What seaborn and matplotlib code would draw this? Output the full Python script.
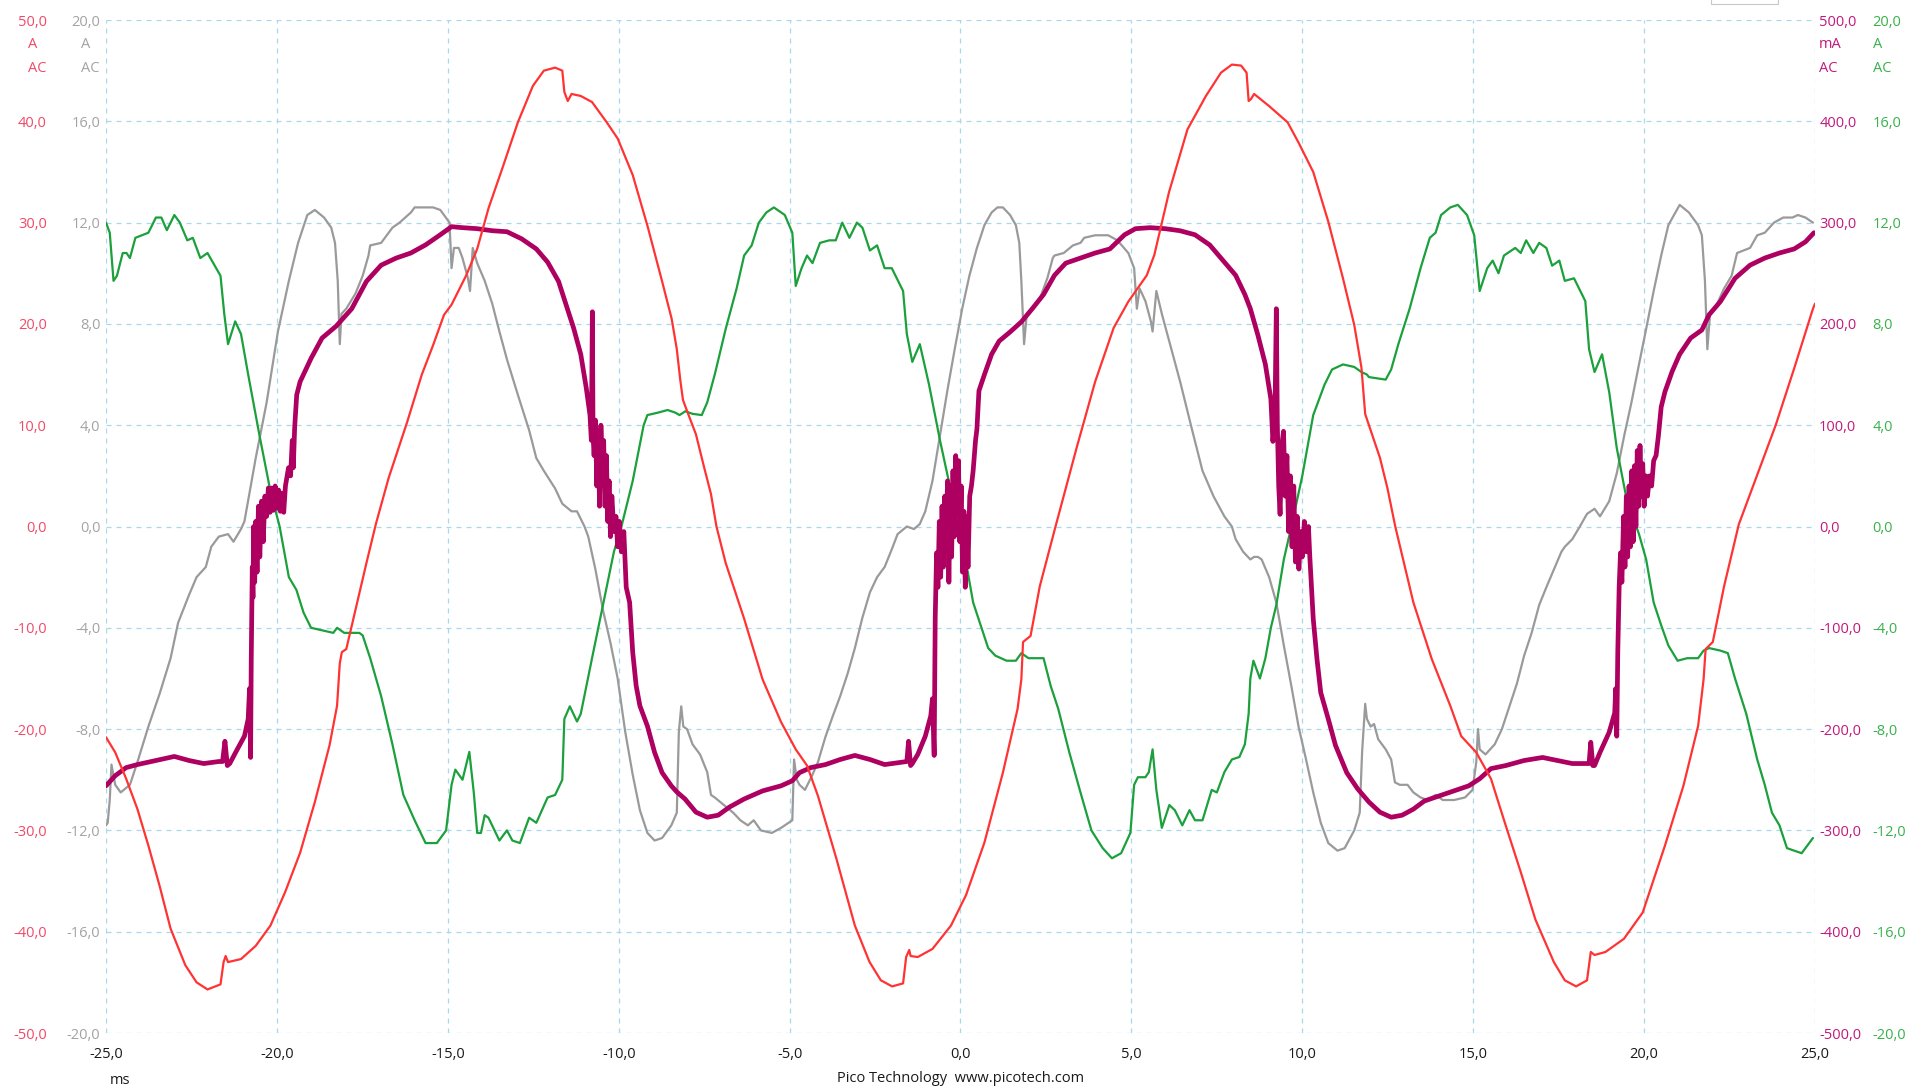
import matplotlib
matplotlib.use("Agg")
import matplotlib.pyplot as plt
from matplotlib.patches import Rectangle
import seaborn as sns

# ---- data (time in ms) ----
x_ticks = [-25, -20, -15, -10, -5, 0, 5, 10, 15, 20, 25]
red_ticks = [-50, -40, -30, -20, -10, 0, 10, 20, 30, 40, 50]
gray_ticks = [-20, -16, -12, -8, -4, 0, 4, 8, 12, 16, 20]
mag_ticks = [-500, -400, -300, -200, -100, 0, 100, 200, 300, 400, 500]
green_ticks = [-20, -16, -12, -8, -4, 0, 4, 8, 12, 16, 20]

# channel A (red, A)
red_t = [-25.0, -24.73, -24.41, -24.08, -23.76, -23.43, -23.11, -22.68, -22.35, -22.03,
         -21.65, -21.56, -21.5, -21.43, -21.05, -20.62, -20.19, -19.76, -19.32, -18.89,
         -18.46, -18.24, -18.16, -18.1, -17.97, -17.7, -17.38, -17.1, -16.73, -16.19,
         -15.76, -15.43, -15.11, -14.89, -14.46, -14.14, -13.81, -13.38, -12.95, -12.51,
         -12.19, -11.86, -11.65, -11.59, -11.49, -11.38, -11.11, -10.78, -10.35, -10.03,
         -9.59, -9.16, -8.73, -8.45, -8.3, -8.2, -8.12, -8.0, -7.74, -7.52,
         -7.3, -7.14, -6.87, -6.33, -5.79, -5.25, -4.82, -4.49, -4.17, -3.63,
         -3.09, -2.66, -2.33, -2.0, -1.68, -1.59, -1.5, -1.46, -1.25, -0.82,
         -0.28, 0.16, 0.7, 1.24, 1.67, 1.78, 1.83, 2.05, 2.32, 2.78,
         3.4, 3.94, 4.48, 4.91, 5.45, 5.67, 6.1, 6.64, 7.18, 7.62,
         7.94, 8.21, 8.37, 8.43, 8.5, 8.59, 9.03, 9.57, 9.89, 10.32,
         10.76, 11.19, 11.52, 11.73, 11.84, 11.95, 12.27, 12.49, 12.72, 13.25,
         13.79, 14.33, 14.65, 15.09, 15.52, 15.95, 16.39, 16.82, 17.36, 17.68,
         18.01, 18.33, 18.44, 18.55, 18.87, 19.41, 19.96, 20.61, 21.15, 21.58,
         21.74, 21.8, 22.01, 22.34, 22.77, 23.31, 23.85, 24.39, 24.94, 25.0]
red_a = [-20.8, -22.3, -24.9, -27.9, -31.5, -35.5, -39.7, -43.3, -45.0, -45.7,
         -45.2, -43.0, -42.4, -43.0, -42.7, -41.4, -39.4, -36.1, -32.2, -27.2,
         -21.6, -17.7, -13.5, -12.4, -12.1, -8.2, -3.6, 0.3, 4.8, 10.3,
         15.0, 17.9, 20.9, 21.9, 24.8, 27.4, 31.4, 35.6, 39.9, 43.5,
         45.0, 45.3, 45.0, 42.9, 42.0, 42.7, 42.5, 41.9, 39.9, 38.3,
         34.7, 29.7, 24.2, 20.5, 17.5, 14.5, 12.5, 11.4, 9.1, 6.1,
         3.2, 0.0, -3.6, -9.1, -15.1, -19.3, -22.0, -23.6, -26.6, -32.8,
         -39.4, -43.0, -44.8, -45.4, -45.1, -42.5, -41.8, -42.4, -42.5, -41.7,
         -39.4, -36.4, -31.2, -24.3, -18.0, -15.1, -11.4, -10.8, -5.9, 0.0,
         7.8, 14.3, 19.6, 22.2, 24.8, 26.8, 33.0, 39.2, 42.5, 44.8,
         45.6, 45.5, 44.8, 42.0, 42.2, 42.7, 41.5, 39.9, 37.9, 35.0,
         30.1, 24.5, 19.9, 15.7, 11.1, 10.0, 6.8, 3.8, 0.0, -7.5,
         -13.1, -17.7, -20.7, -22.3, -24.9, -29.5, -34.1, -38.8, -43.0, -44.8,
         -45.4, -44.8, -42.0, -42.3, -42.0, -40.7, -38.1, -31.5, -25.6, -19.7,
         -15.1, -12.1, -11.4, -5.9, 0.2, 5.1, 10.0, 15.6, 21.5, 22.0]

# channel B (gray, A)
gray_t = [-25.0, -24.95, -24.89, -24.84, -24.73, -24.57, -24.3, -24.08, -23.76, -23.43,
          -23.11, -22.89, -22.57, -22.35, -22.08, -21.92, -21.7, -21.43, -21.27, -21.05,
          -20.95, -20.62, -20.3, -19.97, -19.65, -19.38, -19.11, -18.89, -18.62, -18.41,
          -18.3, -18.22, -18.16, -18.11, -17.97, -17.7, -17.49, -17.32, -17.27, -16.95,
          -16.62, -16.41, -16.08, -15.97, -15.65, -15.43, -15.22, -14.95, -14.89, -14.82,
          -14.68, -14.57, -14.41, -14.35, -14.27, -14.14, -13.92, -13.7, -13.49, -13.27,
          -12.95, -12.62, -12.41, -12.19, -11.86, -11.65, -11.38, -11.22, -11.0, -10.89,
          -10.68, -10.46, -10.24, -10.03, -9.81, -9.59, -9.38, -9.16, -8.95, -8.73,
          -8.46, -8.3, -8.24, -8.17, -8.11, -8.0, -7.84, -7.62, -7.41, -7.3,
          -7.19, -6.92, -6.65, -6.44, -6.22, -6.05, -5.84, -5.52, -5.25, -4.92,
          -4.87, -4.79, -4.71, -4.55, -4.33, -4.17, -3.95, -3.74, -3.52, -3.3,
          -3.09, -2.87, -2.65, -2.44, -2.22, -2.01, -1.84, -1.57, -1.36, -1.19,
          -1.03, -0.82, -0.6, -0.38, -0.17, 0.05, 0.26, 0.48, 0.7, 0.91,
          1.08, 1.24, 1.45, 1.62, 1.72, 1.78, 1.86, 1.94, 2.1, 2.32,
          2.54, 2.7, 2.75, 3.02, 3.29, 3.51, 3.62, 3.94, 4.32, 4.59,
          4.91, 5.08, 5.16, 5.24, 5.41, 5.57, 5.62, 5.73, 5.89, 6.11,
          6.43, 6.76, 7.08, 7.4, 7.72, 7.94, 8.05, 8.27, 8.48, 8.59,
          8.7, 8.81, 9.03, 9.24, 9.46, 9.68, 9.89, 10.11, 10.32, 10.54,
          10.76, 11.03, 11.24, 11.52, 11.68, 11.75, 11.84, 11.89, 12.0, 12.1,
          12.22, 12.44, 12.6, 12.71, 12.85, 13.08, 13.25, 13.46, 13.68, 13.9,
          14.11, 14.44, 14.76, 14.98, 15.09, 15.14, 15.19, 15.36, 15.63, 15.84,
          16.06, 16.28, 16.49, 16.71, 16.93, 17.14, 17.36, 17.58, 17.68, 17.9,
          18.12, 18.33, 18.55, 18.71, 18.98, 19.2, 19.42, 19.63, 19.85, 20.06,
          20.28, 20.5, 20.71, 21.04, 21.31, 21.58, 21.69, 21.78, 21.85, 21.93,
          22.07, 22.34, 22.56, 22.72, 23.1, 23.31, 23.53, 23.8, 24.07, 24.34,
          24.5, 24.72, 24.94]
gray_a = [-11.8, -11.7, -10.8, -9.4, -10.2, -10.5, -10.2, -9.3, -7.9, -6.6,
          -5.2, -3.8, -2.7, -2.0, -1.6, -0.8, -0.4, -0.3, -0.6, -0.1,
          0.2, 2.7, 4.9, 7.7, 9.7, 11.2, 12.3, 12.5, 12.2, 11.8,
          11.2, 9.7, 7.2, 8.4, 8.6, 9.2, 9.9, 10.7, 11.1, 11.2,
          11.8, 12.0, 12.4, 12.6, 12.6, 12.6, 12.5, 12.0, 10.2, 11.0,
          11.0, 10.6, 9.8, 9.3, 11.0, 10.4, 9.7, 8.8, 7.7, 6.6,
          5.2, 3.8, 2.7, 2.2, 1.5, 0.9, 0.6, 0.6, 0.0, -0.4,
          -1.7, -3.3, -4.6, -6.0, -8.1, -9.8, -11.2, -12.1, -12.4, -12.3,
          -11.8, -11.3, -8.1, -7.1, -7.9, -8.0, -8.6, -9.0, -9.7, -10.6,
          -10.7, -11.0, -11.3, -11.6, -11.8, -11.6, -12.0, -12.1, -11.9, -11.6,
          -9.2, -10.0, -10.2, -10.4, -9.8, -9.3, -8.3, -7.5, -6.7, -5.8,
          -4.8, -3.6, -2.6, -2.0, -1.6, -0.9, -0.3, 0.0, -0.1, 0.1,
          0.6, 1.8, 3.6, 5.4, 7.0, 8.6, 9.9, 11.0, 11.9, 12.4,
          12.6, 12.6, 12.3, 11.9, 11.2, 9.7, 7.2, 8.4, 8.6, 9.0,
          9.8, 10.6, 10.7, 10.8, 11.1, 11.2, 11.4, 11.5, 11.5, 11.3,
          10.8, 10.2, 8.6, 9.4, 8.9, 8.1, 7.7, 9.3, 8.4, 7.3,
          5.7, 3.9, 2.2, 1.2, 0.4, 0.0, -0.5, -1.0, -1.3, -1.2,
          -1.2, -1.3, -2.0, -3.0, -4.7, -6.3, -7.9, -9.2, -10.5, -11.7,
          -12.5, -12.8, -12.7, -12.0, -11.3, -8.9, -7.0, -7.6, -7.9, -7.8,
          -8.4, -8.8, -9.2, -10.1, -10.2, -10.2, -10.5, -10.7, -10.8, -10.6,
          -10.8, -10.8, -10.7, -10.4, -9.3, -8.0, -8.8, -9.0, -8.6, -8.0,
          -7.1, -6.2, -5.1, -4.2, -3.1, -2.4, -1.7, -1.0, -0.8, -0.5,
          0.0, 0.5, 0.7, 0.4, 1.0, 2.1, 3.6, 4.9, 6.4, 7.8,
          9.3, 10.7, 11.9, 12.7, 12.4, 11.9, 11.5, 9.7, 7.0, 8.4,
          8.6, 9.4, 9.9, 10.8, 11.0, 11.5, 11.6, 12.0, 12.2, 12.2,
          12.3, 12.2, 12.0]

# channel C (magenta, mA)
mag_t = [-25.0, -24.73, -24.41, -24.08, -23.54, -23.0, -22.57, -22.14, -21.7, -21.59,
         -21.52, -21.45, -21.38, -21.16, -20.95, -20.84, -20.8, -20.77, -20.75, -20.72,
         -20.7, -20.68, -20.65, -20.62, -20.58, -20.54, -20.5, -20.45, -20.4, -20.35,
         -20.3, -20.25, -20.2, -20.15, -20.1, -20.05, -20.0, -19.95, -19.9, -19.85,
         -19.8, -19.75, -19.7, -19.66, -19.6, -19.55, -19.52, -19.48, -19.42, -19.32,
         -19.0, -18.68, -18.26, -17.81, -17.38, -16.95, -16.51, -16.08, -15.65, -15.22,
         -14.89, -14.57, -14.14, -13.7, -13.27, -12.84, -12.41, -12.08, -11.76, -11.54,
         -11.32, -11.11, -10.95, -10.84, -10.8, -10.77, -10.75, -10.72, -10.68, -10.64,
         -10.6, -10.56, -10.52, -10.48, -10.44, -10.4, -10.36, -10.32, -10.28, -10.24,
         -10.2, -10.14, -10.08, -10.03, -9.98, -9.92, -9.85, -9.78, -9.68, -9.59,
         -9.49, -9.38, -9.16, -8.95, -8.73, -8.46, -8.3, -8.06, -7.74, -7.41,
         -7.09, -6.76, -6.33, -5.79, -5.25, -4.92, -4.71, -4.38, -3.95, -3.52,
         -3.09, -2.65, -2.22, -1.79, -1.57, -1.52, -1.46, -1.41, -1.25, -1.03,
         -0.87, -0.82, -0.77, -0.74, -0.7, -0.66, -0.62, -0.58, -0.54, -0.5,
         -0.46, -0.42, -0.38, -0.34, -0.3, -0.26, -0.22, -0.18, -0.14, -0.1,
         -0.06, -0.02, 0.02, 0.06, 0.1, 0.14, 0.18, 0.22, 0.27, 0.32,
         0.37, 0.44, 0.48, 0.54, 0.7, 0.91, 1.13, 1.45, 1.78, 2.1,
         2.43, 2.75, 3.08, 3.51, 3.94, 4.37, 4.8, 5.12, 5.55, 5.99,
         6.42, 6.86, 7.29, 7.72, 8.05, 8.32, 8.48, 8.7, 8.92, 9.08,
         9.14, 9.2, 9.24, 9.27, 9.31, 9.35, 9.4, 9.45, 9.5, 9.55,
         9.6, 9.65, 9.7, 9.75, 9.8, 9.85, 9.9, 9.95, 10.0, 10.06,
         10.12, 10.18, 10.22, 10.32, 10.43, 10.54, 10.76, 10.97, 11.3, 11.62,
         11.95, 12.27, 12.6, 12.92, 13.25, 13.57, 14.0, 14.44, 14.87, 15.19,
         15.52, 15.95, 16.49, 17.03, 17.47, 17.9, 18.39, 18.44, 18.5, 18.55,
         18.71, 18.98, 19.14, 19.17, 19.2, 19.23, 19.27, 19.31, 19.35, 19.4,
         19.44, 19.48, 19.52, 19.56, 19.6, 19.64, 19.68, 19.72, 19.76, 19.8,
         19.84, 19.88, 19.92, 19.96, 20.0, 20.05, 20.1, 20.16, 20.22, 20.28,
         20.35, 20.42, 20.5, 20.61, 20.82, 21.04, 21.36, 21.69, 21.9, 22.23,
         22.66, 23.1, 23.53, 23.96, 24.39, 24.72, 24.97]
mag_ma = [-256, -246, -238, -235, -231, -227, -231, -234, -232, -232,
          -212, -236, -234, -220, -207, -190, -160, -228, -130, -40,
          -70, 0, -55, 5, -45, 20, -30, 25, -15, 30,
          10, 38, 14, 38, 16, 40, 18, 36, 15, 33,
          14, 40, 50, 58, 50, 85, 58, 98, 130, 143,
          166, 186, 198, 215, 242, 258, 265, 270, 278, 288,
          296, 295, 294, 292, 291, 284, 274, 261, 242, 219,
          196, 170, 137, 110, 85, 212, 90, 70, 105, 40,
          95, 20, 100, 60, 85, 20, 70, 5, 45, -10,
          30, -5, 10, -20, 5, -25, -5, -60, -75, -124,
          -157, -177, -197, -223, -243, -256, -262, -269, -282, -287,
          -285, -277, -269, -261, -256, -251, -243, -238, -235, -230,
          -226, -230, -235, -233, -232, -212, -236, -234, -225, -207,
          -187, -170, -226, -91, -26, -60, 5, -50, 20, -40,
          30, -20, 45, -55, 40, -30, 55, -10, 70, 20,
          65, -15, 40, -45, 15, -60, 10, -40, 30, 40,
          55, 85, 96, 134, 150, 170, 183, 192, 202, 215,
          229, 248, 260, 265, 270, 274, 288, 294, 295, 294,
          292, 288, 278, 261, 248, 229, 215, 189, 160, 126,
          84, 110, 215, 100, 40, 12, 80, 94, 30, 70,
          -5, 50, -20, 40, -35, 10, -42, -5, -30, 5,
          -25, 0, -30, -91, -131, -164, -190, -216, -243, -259,
          -272, -282, -287, -285, -279, -271, -266, -261, -256, -249,
          -239, -236, -231, -228, -231, -234, -234, -213, -236, -236,
          -223, -203, -184, -160, -207, -124, -60, -26, -55, 10,
          -40, 30, -30, 40, -20, 55, -15, 60, 0, 75,
          20, 80, 30, 62, 20, 50, 30, 50, 40, 65,
          70, 90, 118, 133, 153, 170, 186, 194, 209, 222,
          245, 258, 265, 270, 274, 281, 290]

# channel D (green, A)
green_t = [-25.0, -24.89, -24.78, -24.68, -24.51, -24.4, -24.3, -24.14, -23.76, -23.54,
           -23.38, -23.22, -23.0, -22.84, -22.62, -22.46, -22.24, -22.03, -21.65, -21.54,
           -21.43, -21.22, -21.05, -20.84, -20.51, -20.19, -19.92, -19.65, -19.43, -19.22,
           -19.0, -18.68, -18.35, -18.24, -18.03, -17.59, -17.49, -17.27, -16.95, -16.62,
           -16.3, -15.97, -15.65, -15.32, -15.05, -14.89, -14.78, -14.57, -14.37, -14.24,
           -14.14, -14.03, -13.92, -13.81, -13.49, -13.27, -13.11, -12.89, -12.62, -12.41,
           -12.08, -11.86, -11.65, -11.59, -11.43, -11.22, -11.11, -10.78, -10.46, -10.14,
           -9.92, -9.59, -9.27, -9.16, -8.84, -8.57, -8.35, -8.22, -8.05, -7.84,
           -7.57, -7.41, -7.19, -6.87, -6.55, -6.33, -6.11, -5.9, -5.68, -5.46,
           -5.14, -4.92, -4.82, -4.65, -4.49, -4.33, -4.11, -3.84, -3.65, -3.46,
           -3.25, -3.03, -2.87, -2.65, -2.44, -2.22, -2.01, -1.68, -1.57, -1.41,
           -1.19, -0.92, -0.6, -0.28, -0.08, 0.16, 0.37, 0.59, 0.81, 1.02,
           1.35, 1.62, 1.78, 1.99, 2.43, 2.64, 2.86, 3.18, 3.51, 3.83,
           4.16, 4.43, 4.7, 4.97, 5.08, 5.19, 5.41, 5.51, 5.62, 5.73,
           5.89, 6.11, 6.27, 6.49, 6.7, 6.86, 7.08, 7.35, 7.5, 7.72,
           7.94, 8.16, 8.32, 8.43, 8.48, 8.57, 8.76, 8.92, 9.08, 9.24,
           9.46, 9.68, 10.0, 10.32, 10.65, 10.87, 11.19, 11.52, 11.73, 11.89,
           11.95, 12.44, 12.6, 12.81, 13.14, 13.46, 13.73, 13.9, 14.06, 14.33,
           14.55, 14.82, 15.03, 15.19, 15.41, 15.57, 15.74, 15.9, 16.23, 16.39,
           16.55, 16.76, 16.93, 17.14, 17.31, 17.52, 17.68, 17.95, 18.28, 18.39,
           18.55, 18.77, 18.98, 19.2, 19.5, 19.85, 20.06, 20.28, 20.5, 20.71,
           20.98, 21.26, 21.58, 21.74, 21.9, 22.23, 22.45, 22.66, 22.99, 23.31,
           23.53, 23.74, 23.96, 24.18, 24.39, 24.61, 24.94]
green_a = [12.0, 11.6, 9.7, 9.9, 10.8, 10.8, 10.6, 11.4, 11.6, 12.2,
           12.2, 11.7, 12.3, 12.0, 11.3, 11.4, 10.6, 10.8, 9.9, 8.4,
           7.2, 8.1, 7.6, 6.0, 3.6, 1.4, 0.0, -2.0, -2.5, -3.4,
           -4.0, -4.1, -4.2, -4.0, -4.2, -4.2, -4.3, -5.2, -6.7, -8.6,
           -10.6, -11.6, -12.5, -12.5, -12.0, -10.2, -9.6, -10.0, -8.9, -10.5,
           -12.1, -12.1, -11.4, -11.5, -12.4, -12.0, -12.4, -12.5, -11.5, -11.7,
           -10.7, -10.6, -10.0, -7.6, -7.1, -7.7, -7.4, -5.2, -3.1, -1.0,
           0.0, 1.8, 4.0, 4.4, 4.5, 4.6, 4.5, 4.4, 4.55, 4.45,
           4.4, 4.9, 6.0, 7.8, 9.4, 10.7, 11.1, 12.0, 12.4, 12.6,
           12.3, 11.6, 9.5, 10.2, 10.7, 10.4, 11.2, 11.3, 11.3, 12.0,
           11.4, 12.0, 11.8, 10.9, 11.1, 10.2, 10.2, 9.3, 7.6, 6.5,
           7.2, 5.6, 3.4, 1.4, 0.0, -1.4, -3.0, -3.9, -4.8, -5.1,
           -5.3, -5.3, -5.0, -5.2, -5.2, -6.3, -7.2, -8.9, -10.5, -12.0,
           -12.7, -13.1, -12.9, -12.1, -10.2, -9.9, -9.9, -9.7, -8.8, -10.4,
           -11.9, -11.0, -11.2, -11.8, -11.2, -11.6, -11.6, -10.4, -10.5, -9.7,
           -9.2, -9.1, -8.6, -7.4, -6.0, -5.3, -6.0, -5.2, -4.0, -3.1,
           -1.3, 0.0, 2.0, 4.4, 5.6, 6.2, 6.4, 6.3, 6.1, 6.0,
           5.9, 5.8, 6.2, 7.2, 8.6, 10.2, 11.4, 11.6, 12.3, 12.6,
           12.7, 12.3, 11.5, 9.3, 10.2, 10.5, 10.0, 10.7, 11.0, 10.8,
           11.3, 10.8, 11.2, 11.0, 10.3, 10.5, 9.7, 9.8, 8.9, 7.0,
           6.1, 6.8, 5.3, 3.1, 1.0, -0.3, -1.3, -3.0, -3.9, -4.7,
           -5.3, -5.2, -5.2, -4.9, -4.8, -4.9, -5.0, -6.0, -7.4, -9.2,
           -10.2, -11.3, -11.8, -12.7, -12.8, -12.9, -12.3]

# ---- styling ----
RED, GRAY, MAG, GREEN = "#ff3333", "#9a9a9a", "#ad0060", "#1ba03c"
RED_TXT, GRAY_TXT, MAG_TXT, GREEN_TXT = "#f04a68", "#a3a3a3", "#c2197c", "#38b24a"
GRID = "#a9d8ea"


def comma(v):
    return f"{v:.1f}".replace(".", ",")


sns.set_style("white")
plt.rcParams["font.family"] = ["Open Sans", "DejaVu Sans"]
plt.rcParams["font.size"] = 10.5

fig = plt.figure(figsize=(19.15, 10.91), dpi=100)
ax_gray = fig.add_axes([0.05535, 0.05316, 0.89243, 0.92850])
ax_green = ax_gray.twinx()
ax_mag = ax_gray.twinx()
ax_red = ax_gray.twinx()

sns.lineplot(x=gray_t, y=gray_a, ax=ax_gray, color=GRAY, linewidth=1.6,
             estimator=None, sort=False)
sns.lineplot(x=green_t, y=green_a, ax=ax_green, color=GREEN, linewidth=1.6,
             estimator=None, sort=False)
sns.lineplot(x=mag_t, y=mag_ma, ax=ax_mag, color=MAG, linewidth=3.4,
             estimator=None, sort=False)
sns.lineplot(x=red_t, y=red_a, ax=ax_red, color=RED, linewidth=1.6,
             estimator=None, sort=False)

axes = [(ax_gray, gray_ticks, GRAY_TXT), (ax_green, green_ticks, GREEN_TXT),
        (ax_mag, mag_ticks, MAG_TXT), (ax_red, red_ticks, RED_TXT)]
for ax, ticks, col in axes:
    ax.set_xlim(-25, 25)
    ax.set_ylim(ticks[0], ticks[-1])
    ax.set_yticks(ticks)
    ax.set_yticklabels([comma(v) for v in ticks], color=col)
    ax.set_xlabel("")
    ax.set_ylabel("")
    for s in ax.spines.values():
        s.set_visible(False)
    ax.tick_params(length=0)

# left side: red outer, gray inner; right side: magenta inner, green outer
ax_gray.tick_params(axis="y", labelleft=True, labelright=False, pad=4)
ax_red.yaxis.tick_left()
ax_red.tick_params(axis="y", labelleft=True, labelright=False, pad=42.5, length=0)
ax_mag.tick_params(axis="y", pad=3)
ax_green.tick_params(axis="y", pad=41.5)

ax_gray.set_xticks(x_ticks)
ax_gray.set_xticklabels([comma(v) for v in x_ticks], color="#1a1a1a")
ax_gray.tick_params(axis="x", pad=10)
ax_gray.grid(True, color=GRID, linestyle=(0, (4, 4)), linewidth=0.9)
ax_gray.set_axisbelow(True)

# channel units
H = 1091.0
W = 1915.0
for xl, col, unit in [(28, RED_TXT, "A"), (81, GRAY_TXT, "A"),
                      (1819, MAG_TXT, "mA"), (1873, GREEN_TXT, "A")]:
    fig.text(xl / W, 1 - 45 / H, unit, color=col, ha="left", va="center")
    fig.text(xl / W, 1 - 68 / H, "AC", color=col, ha="left", va="center")

fig.text(120 / W, 1 - 1080 / H, "ms", color="#1a1a1a", ha="center", va="center")
fig.text(961 / W, 1 - 1078 / H, "Pico Technology  www.picotech.com",
         color="#1a1a1a", ha="center", va="center")

fig.add_artist(Rectangle((1711 / W, 1 - 4 / H), 67 / W, 10 / H,
                         transform=fig.transFigure, fill=False,
                         edgecolor="#c8c8c8", linewidth=0.8))

fig.savefig("out.png", dpi=100)
plt.close(fig)
